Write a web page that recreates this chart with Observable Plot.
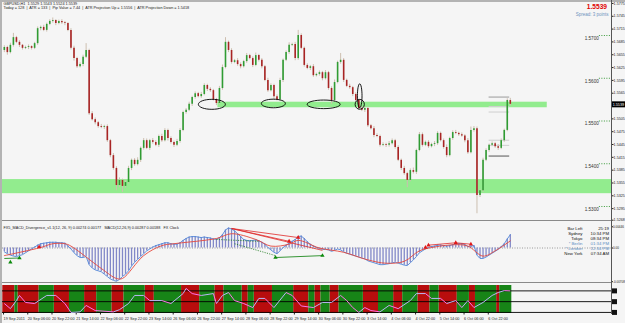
<!DOCTYPE html>
<html>
<head>
<meta charset="utf-8">
<script src="https://cdn.jsdelivr.net/npm/d3@7"></script>
<script src="https://cdn.jsdelivr.net/npm/@observablehq/plot@0.6"></script>
<style>
  html, body { margin: 0; padding: 0; background: #f5f5f5; }
  #wrap { position: relative; width: 625px; height: 323px; overflow: hidden; background: #f5f5f5; }
  #wrap svg { position: absolute; left: 0; }
  .ln { position: absolute; }
</style>
</head>
<body>
<div id="wrap"></div>
<script>
// ---------------- DATA ----------------
const headerLine1 = "GBPUSD,H1  1.5529 1.5543 1.5524 1.5539";
const headerLine2 = "Today = 128  |  ATR = 133  |  Pip Value = 7.44  |  ATR Projection Up = 1.5556  |  ATR Projection Down = 1.5418";
const lastPrice = 1.5539;
const spreadText = "Spread: 3 points";

const firstOpen = 1.5665;
const closes = [
 1.5672,1.5660,1.5677,1.5695,1.5684,1.5677,1.5670,1.5672,1.5674,1.5670,
 1.5681,1.5716,1.5719,1.5712,1.5726,1.5733,1.5735,1.5728,1.5733,1.5730,
 1.5728,1.5712,1.5670,1.5646,1.5627,1.5632,1.5649,1.5665,1.5517,1.5503,
 1.5496,1.5487,1.5485,1.5487,1.5454,1.5419,1.5389,1.5349,1.5361,1.5347,
 1.5356,1.5389,1.5408,1.5398,1.5408,1.5436,1.5454,1.5436,1.5454,1.5450,
 1.5443,1.5464,1.5454,1.5478,1.5459,1.5450,1.5443,1.5452,1.5478,1.5520,
 1.5525,1.5539,1.5555,1.5564,1.5557,1.5562,1.5583,1.5574,1.5571,1.5550,
 1.5541,1.5576,1.5625,1.5684,1.5665,1.5637,1.5641,1.5632,1.5627,1.5639,
 1.5653,1.5646,1.5630,1.5653,1.5642,1.5627,1.5595,1.5571,1.5583,1.5557,
 1.5550,1.5595,1.5642,1.5660,1.5677,1.5679,1.5646,1.5700,1.5670,1.5630,
 1.5623,1.5627,1.5606,1.5609,1.5613,1.5599,1.5613,1.5576,1.5548,1.5590,
 1.5637,1.5642,1.5595,1.5581,1.5578,1.5562,1.5548,1.5529,1.5525,1.5529,
 1.5489,1.5482,1.5466,1.5464,1.5443,1.5445,1.5443,1.5447,1.5454,1.5438,
 1.5408,1.5389,1.5377,1.5361,1.5384,1.5380,1.5431,1.5468,1.5443,1.5450,
 1.5440,1.5445,1.5447,1.5471,1.5454,1.5438,1.5419,1.5459,1.5473,1.5471,
 1.5468,1.5465,1.5454,1.5426,1.5478,1.5482,1.5326,1.5337,1.5408,1.5431,
 1.5443,1.5447,1.5440,1.5436,1.5454,1.5478,1.5548,1.5539];
// wick lengths in pips above / below the candle body
const wickUp = [
 4,3,5,10,3,4,2,3,4,2, 3,4,3,5,3,4,6,2,3,4, 3,2,4,5,3,4,5,16,3,5, 4,3,5,3,4,3,5,4,6,3,
 4,5,3,4,6,3,5,4,3,5, 4,3,5,4,3,4,3,5,4,3, 4,5,3,4,3,5,4,3,4,3, 3,5,6,11,3,4,3,5,4,3,
 5,3,4,6,3,4,3,5,4,3, 4,5,3,4,6,3,5,12,4,3, 4,3,5,3,4,3,5,3,4,6, 3,16,4,3,5,3,4,3,5,3,
 4,3,5,4,3,4,3,5,4,3, 4,3,5,3,4,6,3,5,4,3, 4,3,5,4,3,4,6,3,4,5, 3,4,3,5,8,5,4,3,5,4,
 3,4,3,5,4,3,4,5];
const wickDown = [
 5,6,3,4,3,5,4,3,5,4, 3,4,5,3,4,3,4,5,3,4, 5,3,4,6,4,3,5,3,4,3, 5,4,3,5,4,5,4,12,5,14,
 4,3,5,4,3,5,4,3,5,4, 3,5,4,3,6,4,5,3,4,3, 4,3,5,4,3,4,3,5,4,3, 5,3,4,3,5,4,3,4,5,3,
 4,3,5,3,4,5,3,4,3,9, 3,4,5,3,4,3,5,4,3,4, 3,5,4,3,4,5,3,4,9,4, 3,4,5,3,4,5,3,4,3,5,
 4,3,5,3,4,3,5,4,3,4, 3,5,4,17,3,4,5,3,4,3, 4,3,5,4,3,4,5,3,4,3, 4,3,5,4,3,4,43,5,4,3,
 4,3,4,5,3,4,3,4];

// support / resistance zones (bar index from-to, price lo-hi)
const zoneFrom = [70.5, -0.6];
const zoneTo   = [179.2, 200.4];
const zoneLo   = [1.5531, 1.5330];
const zoneHi   = [1.5544, 1.5363];

// hand-drawn ellipses: centre bar index and price
const ellK = [68.5, 88.8, 105.4, 117.3, 117.3];
const ellP = [1.5539, 1.5541, 1.5539, 1.5539, 1.5559];

// ATR projection / daily levels at the right end
const atrLevels = [1.5556, 1.5534, 1.5521, 1.5455, 1.5443, 1.5418];
const atrTone   = ["#9a9a9a", "#cfcfcf", "#cfcfcf", "#cfcfcf", "#cfcfcf", "#555555"];
const atrFrom = 160, atrTo = 166.8;

const roundLevels = [1.5700, 1.5600, 1.5500, 1.5400, 1.5300];
const priceTicks = [1.5775,1.5745,1.5715,1.5685,1.5655,1.5625,1.5595,1.5565,1.5505,1.5475,1.5445,1.5415,1.5385,1.5355,1.5325,1.5295,1.5268];

// MACD pane
const macdHeader = "FX5_MACD_Divergence_v1.1(12, 26, 9) 0.00274 0.00177   MACD(12,26,9) 0.00287 0.00188   FX Clock";
const macd = [
 -0.0008,-0.0012,-0.0015,-0.0017,-0.0018,-0.0016,-0.0014,-0.0010,-0.0006,-0.0002,
 0.0002,0.0006,0.0009,0.0010,0.0011,0.0012,0.0012,0.0012,0.0011,0.0011,
 0.0010,0.0004,-0.0002,-0.0010,-0.0016,-0.0020,-0.0020,-0.0018,-0.0035,-0.0042,
 -0.0046,-0.0048,-0.0050,-0.0055,-0.0060,-0.0065,-0.0068,-0.0070,-0.0066,-0.0060,
 -0.0055,-0.0048,-0.0038,-0.0030,-0.0024,-0.0018,-0.0012,-0.0006,-0.0002,0.0002,
 0.0005,0.0007,0.0009,0.0011,0.0011,0.0009,0.0008,0.0008,0.0011,0.0016,
 0.0020,0.0023,0.0024,0.0024,0.0023,0.0022,0.0023,0.0022,0.0021,0.0019,
 0.0018,0.0022,0.0028,0.0038,0.0042,0.0040,0.0036,0.0030,0.0024,0.0018,
 0.0016,0.0015,0.0016,0.0017,0.0015,0.0012,0.0008,0.0001,-0.0004,-0.0009,
 -0.0012,-0.0006,0.0001,0.0006,0.0010,0.0014,0.0018,0.0024,0.0025,0.0020,
 0.0013,0.0008,0.0004,0.0001,-0.0001,-0.0003,-0.0003,-0.0004,-0.0007,-0.0005,
 -0.0002,-0.0004,-0.0008,-0.0011,-0.0013,-0.0015,-0.0017,-0.0019,-0.0021,-0.0023,
 -0.0027,-0.0029,-0.0031,-0.0033,-0.0035,-0.0035,-0.0034,-0.0033,-0.0031,-0.0030,
 -0.0032,-0.0034,-0.0036,-0.0037,-0.0031,-0.0025,-0.0018,-0.0010,-0.0006,-0.0002,
 0.0001,0.0003,0.0004,0.0006,0.0006,0.0005,0.0004,0.0005,0.0007,0.0008,
 0.0009,0.0009,0.0007,0.0003,0.0004,0.0005,-0.0015,-0.0022,-0.0022,-0.0019,
 -0.0015,-0.0011,-0.0007,-0.0003,0.0003,0.0009,0.0019,0.0028];
const signalK = [0,12,16,20,22,32,37,39,46,52,56,70,75,83,88,94,97,104,112,120,126,132,137,142,149,153,158,162,167];
const signalV = [-0.0016,0.0001,0.0009,0.0009,0.0004,-0.0043,-0.0064,-0.0064,-0.0016,0.0005,0.0009,0.0020,0.0030,0.0018,0.0004,0.0008,0.0016,0.0000,-0.0009,-0.0025,-0.0032,-0.0028,-0.0006,0.0002,0.0007,0.0004,-0.0017,-0.0006,0.0015];
const redLines    = [[75,0.0041,94,0.0014],[75,0.0041,97,0.0022],[75,0.0041,105,-0.0005],[140,0.0006,149,0.0011],[149,0.0011,154,0.0008]];
const greenDotted = [[70,0.0018,84,0.0014],[76,0.0009,89.5,-0.0016]];
const greenSolid  = [[0,-0.0022,5,-0.0021],[89.5,-0.0020,105,-0.0016]];
const redMarks    = [[11.5,0.0002],[94,0.0014],[97,0.0022],[139,0.0001],[140,0.0006],[149,0.0011],[154,0.0008]];
const greenMarks  = [[2,-0.0030],[5,-0.0021],[89.5,-0.0020],[105,-0.0016]];
const macdTicks = [0.00446, 0, -0.00708];
const clockNames = ["Bar Left","Sydney","Tokyo","* Berlin","* London","New York"];
const clockTimes = ["25:19","10:34 PM","08:34 PM","01:34 PM","12:34 PM","07:34 AM"];
const clockBlue  = [false,false,false,true,true,false];

// bottom oscillator pane
const runs = [[0,4,"R"],[4,5,"G"],[5,12,"R"],[12,17,"G"],[17,22,"R"],[22,27,"G"],[27,31,"R"],[31,36,"G"],[36,40,"R"],[40,47,"G"],[47,50,"R"],[50,59,"G"],[59,65,"R"],[65,70,"G"],[70,73,"R"],[73,79,"G"],[79,81,"R"],[81,83,"G"],[83,89,"R"],[89,96,"G"],[96,101,"R"],[101,103,"G"],[103,105,"R"],[105,108,"G"],[108,111,"R"],[111,119,"G"],[119,124,"R"],[124,129,"G"],[129,132,"R"],[132,137,"G"],[137,141,"R"],[141,144,"G"],[144,150,"R"],[150,154,"G"],[154,156,"R"],[156,163,"G"],[163,164,"R"],[164,168,"G"]];
const oscK = [0,2,4,5,7,10,14,17,20,22,25,27,30,36,38,41,43,46,48,52,55,59,60,62,65,69,70,72,74,76,79,82,84,86,89,93,95,98,102,105,108,111,113,115,117,119,121,124,127,130,134,136,139,141,144,146,149,151,153,155,158,161,163,165,167];
const oscV = [33,14,44,63,37,33,63,63,33,0,2,26,7,2,10,33,63,63,44,44,33,70,89,70,63,70,33,63,74,44,33,18,52,52,18,74,63,24,18,37,37,63,44,18,0,18,7,2,26,14,44,70,70,52,52,33,44,18,44,18,37,63,74,81,80];
const oscLevels = [80, 40, 0];

const tickK = [0,8,16,24,32,40,48,56,64,72,80,88,96,104,112,120,128,136,144,152,160];
const tickLabels = ["19 Sep 2011","20 Sep 06:00","20 Sep 22:00","21 Sep 14:00","22 Sep 06:00","22 Sep 22:00","23 Sep 14:00","26 Sep 06:00","26 Sep 22:00","27 Sep 14:00","28 Sep 06:00","28 Sep 22:00","29 Sep 14:00","30 Sep 06:00","30 Sep 22:00","3 Oct 14:00","4 Oct 06:00","4 Oct 22:00","5 Oct 14:00","6 Oct 06:00","6 Oct 22:00"];

// ---------------- BUILD ----------------
const FONT = "'Liberation Sans', Arial, sans-serif";
const XDOM = [-0.6, 200.4];
const wrap = document.getElementById("wrap");

const candles = closes.map((c, i) => {
  const o = i === 0 ? firstOpen : closes[i - 1];
  return {k: i, open: o, close: c,
          high: Math.max(o, c) + wickUp[i] / 1e4,
          low: Math.min(o, c) - wickDown[i] / 1e4};
});
const zones = zoneFrom.map((f, i) => ({from: f, to: zoneTo[i], lo: zoneLo[i], hi: zoneHi[i]}));
const ells = ellK.map((k, i) => ({k, p: ellP[i]}));
const ellR = [[13.5, 5], [12, 4.3], [16.5, 4.3], [4.6, 4.9], [2.3, 12]];

function ellipseSymbol(rx, ry) {
  const c = 0.5523;
  return {draw(ctx) {
    ctx.moveTo(rx, 0);
    ctx.bezierCurveTo(rx, ry * c, rx * c, ry, 0, ry);
    ctx.bezierCurveTo(-rx * c, ry, -rx, ry * c, -rx, 0);
    ctx.bezierCurveTo(-rx, -ry * c, -rx * c, -ry, 0, -ry);
    ctx.bezierCurveTo(rx * c, -ry, rx, -ry * c, rx, 0);
    ctx.closePath();
  }};
}
function rectSymbol(w, h) {
  return {draw(ctx) { ctx.rect(-w / 2, -h / 2, w, h); }};
}
function place(svg, top) {
  svg.style.top = top + "px";
  wrap.appendChild(svg);
}
const baseStyle = {background: "transparent", fontFamily: FONT, overflow: "visible"};

// ---- main price pane ----
place(Plot.plot({
  width: 625, height: 221,
  marginLeft: 2, marginRight: 14, marginTop: 0, marginBottom: 0,
  style: baseStyle,
  x: {domain: XDOM, axis: null},
  y: {domain: [1.52649, 1.57819], axis: null},
  color: {type: "identity"},
  marks: [
    Plot.rect(zones, {x1: "from", x2: "to", y1: "lo", y2: "hi", fill: "#92ec8e"}),
    Plot.ruleY(atrLevels, {y: d => d, x1: atrFrom, x2: atrTo, stroke: (d, i) => atrTone[i], strokeWidth: 1}),
    Plot.ruleY(roundLevels, {y: d => d, x1: 196.4, x2: 200.4, stroke: "#3a9a3a", strokeDasharray: "1,1.5"}),
    Plot.text(roundLevels, {x: 196.2, y: d => d, text: d => d.toFixed(4), textAnchor: "end", dy: 3, fontSize: 4.6, fill: "#333"}),
    Plot.ruleX(candles, {x: "k", y1: "low", y2: "high", stroke: "#cdbfb0", strokeWidth: 1}),
    Plot.ruleX(candles, {x: "k", y1: "open", y2: "close", stroke: d => d.close >= d.open ? "#2f9c33" : "#a82424", strokeWidth: 1.6}),
    ...ells.map((e, i) => Plot.dot([e], {x: "k", y: "p", symbol: ellipseSymbol(ellR[i][0], ellR[i][1]), fill: "none", stroke: "#000", strokeWidth: 0.9})),
    Plot.axisY(priceTicks, {anchor: "right", tickFormat: d => d.toFixed(4), tickSize: 1.5, tickPadding: 0.6, fontSize: 3.7, color: "#222", label: null}),
    Plot.dot([lastPrice], {x: 200.4, y: d => d, dx: 7, symbol: rectSymbol(14, 6), fill: "#000", stroke: "none"}),
    Plot.text([lastPrice], {x: 200.4, y: d => d, dx: 1.2, text: d => d.toFixed(4), textAnchor: "start", fontSize: 3.7, fill: "#fff"}),
    Plot.text([headerLine1 + "\n" + headerLine2], {text: d => d, frameAnchor: "top-left", dx: 1, dy: 1.3, lineAnchor: "top", textAnchor: "start", fontSize: 3.8, lineHeight: 1.15, fill: "#222"}),
    Plot.text([lastPrice], {text: d => d.toFixed(4), frameAnchor: "top-right", dx: -4.5, dy: 4, lineAnchor: "top", textAnchor: "end", fontSize: 6.6, fontWeight: "bold", fill: "#e00000"}),
    Plot.text([spreadText], {text: d => d, frameAnchor: "top-right", dx: -3, dy: 12.3, lineAnchor: "top", textAnchor: "end", fontSize: 4.5, fill: "#6f93bd"})
  ]
}), 0);

// ---- MACD pane ----
const hist = macd.map((v, k) => ({k, v}));
const sig = signalK.map((k, i) => ({k, v: signalV[i]}));
const seg = a => a.map(d => ({k1: d[0], v1: d[1], k2: d[2], v2: d[3]}));
const pts = a => a.map(d => ({k: d[0], v: d[1]}));
const blank = (arr, keep) => arr.map((s, i) => keep(i) ? s : "").join("\n");
place(Plot.plot({
  width: 625, height: 62,
  marginLeft: 2, marginRight: 14, marginTop: 0, marginBottom: 0,
  style: baseStyle,
  x: {domain: XDOM, axis: null},
  y: {domain: [-0.00746, 0.00557], axis: null},
  marks: [
    Plot.ruleY([0], {stroke: "#9a9a9a", strokeDasharray: "1,1.5"}),
    Plot.ruleX(hist, {x: "k", y1: 0, y2: "v", stroke: "#8288c8", strokeWidth: 1.3}),
    Plot.line(hist, {x: "k", y: "v", stroke: "#4f86d8", strokeWidth: 0.9}),
    Plot.line(sig, {x: "k", y: "v", curve: "catmull-rom", stroke: "#e5473c", strokeWidth: 0.9}),
    Plot.link(seg(redLines), {x1: "k1", y1: "v1", x2: "k2", y2: "v2", stroke: "#e02828", strokeWidth: 0.8}),
    Plot.link(seg(greenDotted), {x1: "k1", y1: "v1", x2: "k2", y2: "v2", stroke: "#1f7a1f", strokeWidth: 0.8, strokeDasharray: "1.2,1.2"}),
    Plot.link(seg(greenSolid), {x1: "k1", y1: "v1", x2: "k2", y2: "v2", stroke: "#1f8a1f", strokeWidth: 0.9}),
    Plot.dot(pts(redMarks), {x: "k", y: "v", symbol: "triangle", r: 1.6, fill: "#e01818"}),
    Plot.dot(pts(greenMarks), {x: "k", y: "v", symbol: "triangle", r: 1.6, fill: "#0c8a0c"}),
    Plot.text([macdHeader], {text: d => d, frameAnchor: "top-left", dx: 1, dy: 5, lineAnchor: "top", textAnchor: "start", fontSize: 3.8, fill: "#222"}),
    Plot.axisY(macdTicks, {anchor: "right", tickFormat: d => d === 0 ? "0.00" : d.toFixed(5), tickSize: 1, tickPadding: 0.4, fontSize: 3.05, color: "#222", label: null}),
    Plot.text([blank(clockNames, i => !clockBlue[i])], {text: d => d, frameAnchor: "top-right", dx: -29, dy: 4.6, lineAnchor: "top", textAnchor: "end", fontSize: 4.3, lineHeight: 1.17, fill: "#111"}),
    Plot.text([blank(clockNames, i => clockBlue[i])], {text: d => d, frameAnchor: "top-right", dx: -29, dy: 4.6, lineAnchor: "top", textAnchor: "end", fontSize: 4.3, lineHeight: 1.17, fill: "#5b8cc2"}),
    Plot.text([blank(clockTimes, i => !clockBlue[i])], {text: d => d, frameAnchor: "top-right", dx: -2.5, dy: 4.6, lineAnchor: "top", textAnchor: "end", fontSize: 4.3, lineHeight: 1.17, fill: "#111"}),
    Plot.text([blank(clockTimes, i => clockBlue[i])], {text: d => d, frameAnchor: "top-right", dx: -2.5, dy: 4.6, lineAnchor: "top", textAnchor: "end", fontSize: 4.3, lineHeight: 1.17, fill: "#5b8cc2"})
  ]
}), 221);

// ---- bottom oscillator pane ----
const runRects = runs.map(r => ({x1: r[0] - 0.5, x2: r[1] - 0.5, c: r[2]}));
const oscSegs = oscK.slice(1).map((k, i) => ({k1: oscK[i], v1: oscV[i], k2: k, v2: oscV[i + 1]}));
place(Plot.plot({
  width: 625, height: 40,
  marginLeft: 2, marginRight: 14, marginTop: 2, marginBottom: 10,
  style: baseStyle,
  x: {domain: XDOM, axis: null},
  y: {domain: [-4, 100], axis: null},
  marks: [
    Plot.rect(runRects.filter(d => d.c === "R"), {x1: "x1", x2: "x2", y1: -4, y2: 100, fill: "#b80d0d"}),
    Plot.rect(runRects.filter(d => d.c === "G"), {x1: "x1", x2: "x2", y1: -4, y2: 100, fill: "#178417"}),
    Plot.ruleY(oscLevels, {x1: -0.6, x2: 200.4, stroke: "#000", strokeWidth: 0.9}),
    Plot.link(oscSegs, {x1: "k1", y1: "v1", x2: "k2", y2: "v2", stroke: d => d.v2 >= d.v1 ? "#b8b6f4" : "#ff72ea", strokeWidth: 1}),
    Plot.dot(oscLevels, {x: 200.4, y: d => d, dx: 3, symbol: rectSymbol(5, 5), fill: "#111"}),
    Plot.axisX(tickK, {anchor: "bottom", tickFormat: d => tickLabels[tickK.indexOf(d)], textAnchor: "start", dx: -0.8, tickSize: 1.5, tickPadding: 2.2, fontSize: 3.8, color: "#222", label: null})
  ]
}), 283);

// frame lines
[["0px","0px","625px","2px","#b3b3b3"],["0px","0px","2px","323px","#b3b3b3"],
 ["2px","220px","609px","1px","#8a8a8a"],["2px","282px","609px","1px","#8a8a8a"],
 ["611px","0px","1px","314px","#555"]].forEach(([l, t, w, h, c]) => {
  const d = document.createElement("div");
  d.className = "ln";
  Object.assign(d.style, {left: l, top: t, width: w, height: h, background: c});
  wrap.appendChild(d);
});
</script>
</body>
</html>
